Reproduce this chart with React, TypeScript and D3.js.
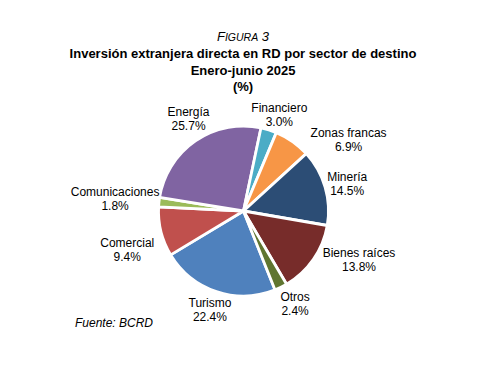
import React from "react";
import * as d3 from "d3";

// datos: Inversión extranjera directa por sector de destino (%), enero-junio 2025
const sectores = [
  "Turismo",
  "Comercial",
  "Comunicaciones",
  "Energía",
  "Financiero",
  "Zonas francas",
  "Minería",
  "Bienes raíces",
  "Otros",
];
const valores = [22.4, 9.4, 1.8, 25.7, 3.0, 6.9, 14.5, 13.8, 2.4];
const colores = [
  "#4F81BD",
  "#C0504D",
  "#9BBB59",
  "#8064A2",
  "#4BACC6",
  "#F79646",
  "#2C4D75",
  "#772C2A",
  "#5F7530",
];

const W = 477;
const H = 367;
const cx = 243.5;
const cy = 211;
const radio = 85;
const FONT = "Liberation Sans, Arial, sans-serif";

// ajuste manual de etiquetas (como en Excel)
const ajuste: Record<string, [number, number]> = {
  Turismo: [0.5, -2.5],
  Comercial: [-12.5, 12.5],
  Comunicaciones: [-22, -1],
  Energía: [5.5, -4],
  Financiero: [4, 6.5],
  "Zonas francas": [43.5, 16.5],
  Minería: [1, 3.5],
  "Bienes raíces": [27.5, -11.5],
  Otros: [4.5, -3],
};

export default function App() {
  const data = sectores.map((s, i) => ({ sector: s, valor: valores[i], color: colores[i] }));
  const inicio = (158.2 * Math.PI) / 180;
  const pie = d3
    .pie<any>()
    .sort(null)
    .value((d) => d.valor)
    .startAngle(inicio)
    .endAngle(inicio + 2 * Math.PI);
  const arcos = pie(data);
  const arc = d3.arc<any>().innerRadius(0).outerRadius(radio);
  const arcEtiqueta = d3.arc<any>().innerRadius(107).outerRadius(107);

  return (
    <svg
      width={W}
      height={H}
      style={{ position: "absolute", left: 0, top: 0, background: "#fff" }}
      fontFamily={FONT}
    >
      <rect width={W} height={H} fill="#fff" />
      {/* título */}
      <g textAnchor="middle" fontSize={13} fill="#000">
        <text x={243} y={41} fontStyle="italic">
          F<tspan fontSize={10.5}>IGURA</tspan> 3
        </text>
        <g fontWeight="bold">
          <text x={243} y={58}>Inversión extranjera directa en RD por sector de destino</text>
          <text x={243} y={75}>Enero-junio 2025</text>
          <text x={243} y={91}>(%)</text>
        </g>
      </g>

      <g transform={`translate(${cx},${cy})`}>
        {arcos.map((a) => (
          <path
            key={a.data.sector}
            d={arc(a) as string}
            fill={a.data.color}
            stroke="#fff"
            strokeWidth={2.8}
            strokeLinejoin="round"
          />
        ))}
        {arcos.map((a) => {
          const [x, y] = arcEtiqueta.centroid(a);
          const [dx, dy] = ajuste[a.data.sector] || [0, 0];
          return (
            <text
              key={"t" + a.data.sector}
              x={x + dx}
              y={y + dy}
              textAnchor="middle"
              fontSize={12}
              fill="#000"
            >
              <tspan x={x + dx} dy={-3}>
                {a.data.sector}
              </tspan>
              <tspan x={x + dx} dy={14}>
                {a.data.valor.toFixed(1)}%
              </tspan>
            </text>
          );
        })}
      </g>

      <text x={75} y={327} fontSize={12} fontStyle="italic" fill="#000">
        Fuente: BCRD
      </text>
    </svg>
  );
}
